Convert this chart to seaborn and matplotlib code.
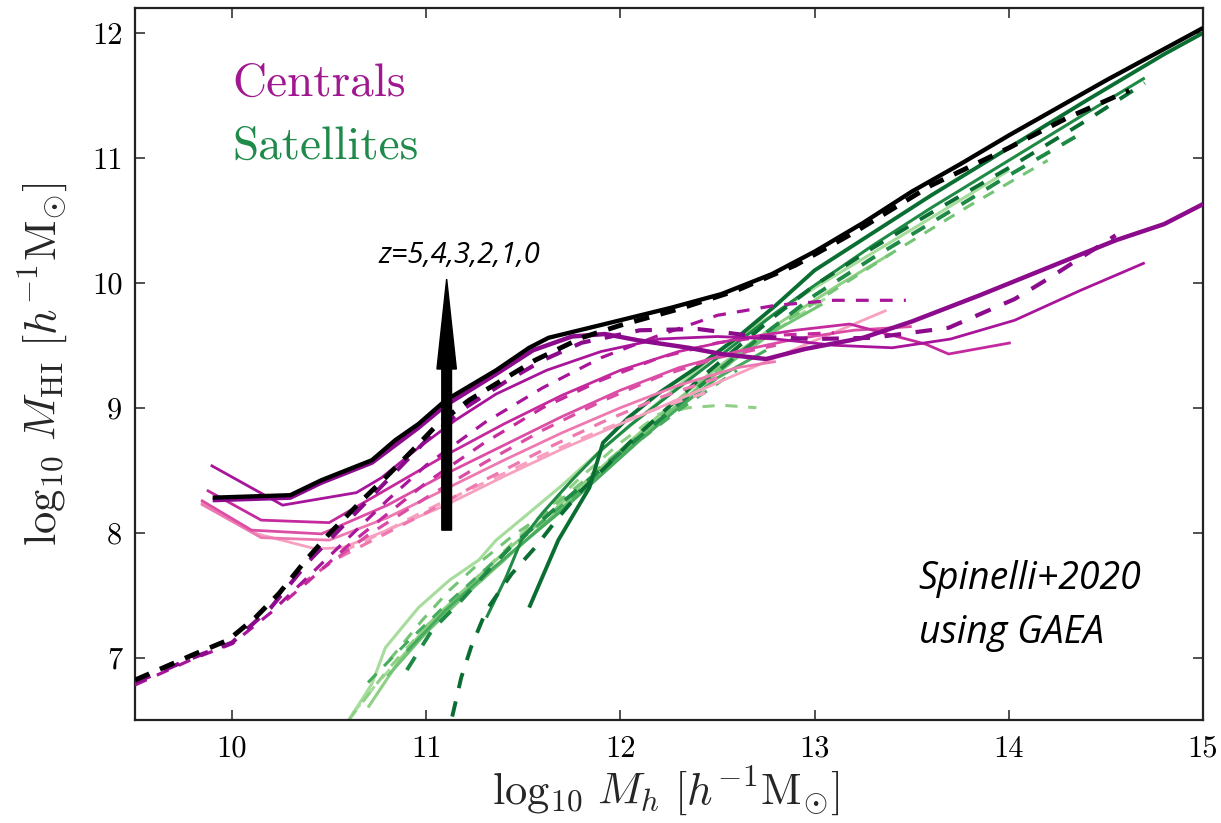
import numpy as np
import pandas as pd
import seaborn as sns
import matplotlib
matplotlib.use("Agg")
import matplotlib.pyplot as plt

# ---------------------------------------------------------------- data
# Total HI mass (z=0), two model runs
tot_solid_x = [9.9, 10.3, 10.46, 10.72, 10.84, 10.96, 11.1, 11.36, 11.53, 11.63, 11.92, 12.26,
               12.52, 12.78, 13.0, 13.25, 13.5, 13.75, 14.0, 14.25, 14.5, 14.75, 15.0]
tot_solid_y = [8.28, 8.30, 8.42, 8.58, 8.74, 8.87, 9.06, 9.30, 9.48, 9.56, 9.67, 9.80,
               9.91, 10.07, 10.25, 10.48, 10.73, 10.95, 11.18, 11.40, 11.62, 11.83, 12.04]
tot_dash_x = [9.5, 9.81, 9.98, 10.12, 10.24, 10.38, 10.5, 10.67, 10.79, 10.93, 11.06, 11.22,
              11.39, 11.56, 11.8, 12.0, 12.3, 12.6, 12.9, 13.2, 13.6, 14.0, 14.3, 14.62]
tot_dash_y = [6.82, 7.03, 7.14, 7.32, 7.51, 7.78, 7.99, 8.26, 8.44, 8.66, 8.87, 9.06,
              9.22, 9.38, 9.56, 9.66, 9.79, 9.94, 10.14, 10.40, 10.78, 11.08, 11.32, 11.54]

redshifts = [0, 1, 2, 3, 4, 5]

# Centrals, solid-line run
cen_solid_x = {
    0: [9.9, 10.3, 10.46, 10.72, 10.96, 11.1, 11.36, 11.55, 11.75, 11.92, 12.09, 12.35, 12.52,
        12.75, 12.95, 13.25, 13.5, 13.85, 14.2, 14.55, 14.8, 15.0],
    1: [9.89, 10.26, 10.64, 10.77, 10.96, 11.15, 11.36, 11.62, 11.9, 12.2, 12.5, 12.8, 13.1,
        13.4, 13.7, 14.03, 14.37, 14.7],
    2: [9.87, 10.15, 10.5, 10.8, 11.1, 11.4, 11.7, 12.0, 12.3, 12.6, 12.9, 13.18, 13.57, 13.69, 14.01],
    3: [9.84, 10.1, 10.46, 10.8, 11.1, 11.4, 11.7, 12.0, 12.3, 12.6, 12.9, 13.2, 13.5],
    4: [9.84, 10.15, 10.5, 10.8, 11.1, 11.4, 11.7, 12.0, 12.3, 12.6, 12.8],
    5: [9.84, 10.13, 10.43, 10.57, 10.8, 11.1, 11.4, 11.7, 12.0, 12.44, 12.9, 13.37],
}
cen_solid_y = {
    0: [8.26, 8.28, 8.40, 8.56, 8.84, 9.02, 9.27, 9.46, 9.57, 9.59, 9.54, 9.48, 9.43,
        9.39, 9.47, 9.56, 9.69, 9.90, 10.12, 10.34, 10.47, 10.63],
    1: [8.54, 8.22, 8.32, 8.44, 8.68, 8.90, 9.11, 9.30, 9.45, 9.55, 9.57, 9.55, 9.50,
        9.48, 9.55, 9.70, 9.94, 10.16],
    2: [8.34, 8.10, 8.08, 8.35, 8.62, 8.87, 9.10, 9.30, 9.45, 9.55, 9.62, 9.67, 9.51, 9.43, 9.52],
    3: [8.26, 8.02, 7.99, 8.22, 8.47, 8.70, 8.93, 9.14, 9.32, 9.45, 9.55, 9.62, 9.65],
    4: [8.23, 7.96, 7.94, 8.12, 8.35, 8.58, 8.80, 9.00, 9.18, 9.32, 9.37],
    5: [8.24, 7.99, 7.87, 7.88, 8.02, 8.22, 8.45, 8.67, 8.87, 9.16, 9.47, 9.78],
}

# Centrals, dashed-line run
cen_dash_x = {
    0: [9.5, 9.8, 10.0, 10.2, 10.4, 10.6, 10.8, 11.0, 11.2, 11.4, 11.6, 11.8, 12.1, 12.4, 12.7,
        13.0, 13.3, 13.69, 14.03, 14.2, 14.55],
    1: [9.5, 9.8, 10.0, 10.2, 10.4, 10.6, 10.8, 11.0, 11.3, 11.6, 11.9, 12.2, 12.5, 12.8, 13.1, 13.47],
    2: [10.28, 10.4, 10.6, 10.8, 11.0, 11.3, 11.6, 11.9, 12.2, 12.5, 12.8, 13.1],
    3: [10.35, 10.5, 10.7, 11.0, 11.3, 11.6, 11.9, 12.2, 12.5, 12.8],
    4: [10.55, 10.7, 11.0, 11.3, 11.6, 11.9, 12.2, 12.5],
    5: [10.57, 10.8, 11.0, 11.3, 11.6, 11.9, 12.2, 12.44],
}
cen_dash_y = {
    0: [6.80, 7.00, 7.12, 7.40, 7.78, 8.10, 8.42, 8.74, 9.00, 9.20, 9.38, 9.52, 9.62, 9.63, 9.57,
        9.55, 9.56, 9.64, 9.87, 10.03, 10.38],
    1: [6.78, 6.99, 7.11, 7.36, 7.66, 7.96, 8.26, 8.54, 8.88, 9.16, 9.40, 9.58, 9.74, 9.82, 9.86, 9.86],
    2: [7.46, 7.62, 7.90, 8.15, 8.40, 8.72, 9.00, 9.22, 9.40, 9.52, 9.58, 9.60],
    3: [7.58, 7.75, 7.98, 8.28, 8.56, 8.82, 9.05, 9.25, 9.40, 9.50],
    4: [7.80, 7.92, 8.16, 8.42, 8.66, 8.88, 9.08, 9.24],
    5: [7.85, 8.02, 8.18, 8.40, 8.62, 8.82, 9.00, 9.12],
}

# Satellites, solid-line run
sat_solid_x = {
    0: [11.53, 11.68, 11.84, 11.91, 12.04, 12.2, 12.4, 12.6, 12.8, 13.0, 13.3, 13.6, 14.0,
        14.4, 14.8, 15.0],
    1: [11.31, 11.41, 11.49, 11.6, 11.75, 11.9, 12.05, 12.2, 12.4, 12.6, 12.8, 13.0, 13.3,
        13.6, 14.0, 14.4, 14.7],
    2: [10.9, 11.1, 11.3, 11.5, 11.7, 11.9, 12.1, 12.3, 12.5, 12.75],
    3: [10.8, 11.0, 11.2, 11.4, 11.6, 11.8, 12.0, 12.2, 12.4, 12.6, 12.8, 13.04],
    4: [10.7, 10.85, 11.0, 11.2, 11.4, 11.6, 11.8, 12.0, 12.2, 12.4, 12.6, 12.8, 13.1, 13.4],
    5: [10.55, 10.61, 10.72, 10.79, 10.96, 11.12, 11.27, 11.36, 11.5, 11.7, 11.9, 12.1, 12.3,
        12.5, 12.7, 13.0, 13.3, 13.6, 14.0],
}
sat_solid_y = {
    0: [7.40, 7.94, 8.36, 8.72, 8.92, 9.12, 9.33, 9.56, 9.82, 10.10, 10.40, 10.70, 11.08,
        11.46, 11.83, 12.0],
    1: [7.32, 7.64, 7.94, 8.16, 8.42, 8.66, 8.86, 9.04, 9.28, 9.52, 9.76, 9.98, 10.30,
        10.60, 10.98, 11.36, 11.64],
    2: [7.05, 7.38, 7.66, 7.92, 8.18, 8.46, 8.74, 9.00, 9.24, 9.46],
    3: [6.85, 7.20, 7.50, 7.78, 8.06, 8.34, 8.62, 8.90, 9.16, 9.40, 9.62, 9.83],
    4: [6.60, 6.95, 7.25, 7.55, 7.84, 8.10, 8.38, 8.66, 8.94, 9.20, 9.44, 9.66, 9.96, 10.24],
    5: [6.30, 6.52, 6.79, 7.08, 7.40, 7.62, 7.78, 7.94, 8.12, 8.38, 8.66, 8.92, 9.18,
        9.44, 9.66, 9.96, 10.24, 10.52, 10.90],
}

# Satellites, dashed-line run
sat_dash_x = {
    0: [11.1, 11.18, 11.23, 11.31, 11.44, 11.56, 11.68, 11.8, 11.92, 12.06, 12.23, 12.4, 12.6,
        12.8, 13.0, 13.3, 13.6, 14.0, 14.4, 14.7],
    1: [10.9, 11.03, 11.17, 11.31, 11.43, 11.55, 11.7, 11.85, 12.0, 12.2, 12.4, 12.6, 12.8,
        13.0, 13.3, 13.6, 14.0, 14.4],
    2: [10.7, 10.9, 11.1, 11.3, 11.5, 11.7, 11.9, 12.1, 12.3, 12.6],
    3: [10.81, 10.98, 11.12, 11.29, 11.45, 11.6, 11.8, 12.0, 12.2, 12.4, 12.6, 12.8, 13.1,
        13.4, 13.8, 14.2],
    4: [10.6, 10.8, 11.0, 11.2, 11.4, 11.6, 11.8, 12.0, 12.2, 12.35, 12.52, 12.7],
    5: [10.62, 10.75, 10.9, 11.1, 11.3, 11.5, 11.7, 11.9, 12.1, 12.3, 12.5, 12.8, 13.1],
}
sat_dash_y = {
    0: [6.30, 6.84, 7.08, 7.38, 7.67, 7.88, 8.12, 8.34, 8.52, 8.74, 8.98, 9.22, 9.48,
        9.74, 9.98, 10.28, 10.56, 10.92, 11.30, 11.60],
    1: [6.90, 7.22, 7.44, 7.68, 7.88, 8.04, 8.24, 8.44, 8.64, 8.90, 9.16, 9.42, 9.66,
        9.90, 10.20, 10.48, 10.86, 11.22],
    2: [6.80, 7.12, 7.42, 7.70, 7.96, 8.22, 8.48, 8.74, 8.98, 9.30],
    3: [6.98, 7.30, 7.54, 7.78, 7.98, 8.14, 8.40, 8.66, 8.92, 9.18, 9.42, 9.64, 9.94,
        10.24, 10.62, 10.98],
    4: [6.50, 6.90, 7.25, 7.55, 7.85, 8.15, 8.45, 8.72, 8.95, 9.00, 9.02, 9.00],
    5: [6.55, 6.80, 7.05, 7.36, 7.64, 7.92, 8.20, 8.48, 8.76, 9.02, 9.28, 9.62, 9.92],
}

cen_colors = ["#8c0a8c", "#a8159a", "#c42a9e", "#dc4ea6", "#ee78b0", "#f8a0bf"]
sat_colors = ["#0a6e32", "#1f8a45", "#47ab5e", "#74c476", "#8ed184", "#a6dc9c"]

x_ticks = [10, 11, 12, 13, 14, 15]
y_ticks = [7, 8, 9, 10, 11, 12]

# ---------------------------------------------------------------- style
sns.set_style("ticks")
plt.rcParams["font.family"] = ["cmr10", "DejaVu Serif"]
plt.rcParams["mathtext.fontset"] = "cm"
plt.rcParams["axes.unicode_minus"] = False
plt.rcParams["axes.formatter.use_mathtext"] = True

fig = plt.figure(figsize=(12.21, 8.23), dpi=100)
ax = fig.add_axes([135 / 1221, 1 - 720 / 823, 1068 / 1221, 712 / 823])


def draw(x, y, color, lw, dashes=None, z=2):
    sns.lineplot(x=x, y=y, ax=ax, color=color, lw=lw, estimator=None, sort=False,
                 zorder=z, solid_capstyle="butt")
    line = ax.lines[-1]
    if dashes is not None:
        line.set_dashes(dashes)
        line.set_dash_capstyle("butt")


# satellites first, then centrals, then totals on top
for z in reversed(redshifts):
    draw(sat_dash_x[z], sat_dash_y[z], sat_colors[z], 2.8 if z < 2 else 2.2, (4, 3.5), 2)
    draw(sat_solid_x[z], sat_solid_y[z], sat_colors[z], 2.8 if z == 0 else 2.2, None, 2)
for z in reversed(redshifts):
    draw(cen_dash_x[z], cen_dash_y[z], cen_colors[z], 3.0 if z == 0 else 2.3, (4, 3.5), 3)
    draw(cen_solid_x[z], cen_solid_y[z], cen_colors[z], 3.2 if z == 0 else 2.0, None, 3)

draw(tot_dash_x, tot_dash_y, "black", 3.5, (3.2, 2.4), 4)
draw(tot_solid_x, tot_solid_y, "black", 3.1, None, 5)

ax.set_xlim(9.5, 15.0)
ax.set_ylim(6.5, 12.2)
ax.set_xticks(x_ticks)
ax.set_yticks(y_ticks)
ax.set_xticklabels([str(t) for t in x_ticks])
ax.set_yticklabels([str(t) for t in y_ticks])
ax.tick_params(direction="in", length=7, width=1.1, top=True, right=True,
               labelsize=22, pad=9, colors="#222222", labelcolor="black")
ax.tick_params(axis="x", pad=11)
for sp in ax.spines.values():
    sp.set_visible(True)
    sp.set_linewidth(1.6)
    sp.set_color("#222222")

ax.set_xlabel(r"$\log_{10}\,M_h\ [h^{-1}{\rm M}_{\odot}]$", fontsize=32)
ax.set_ylabel(r"$\log_{10}\,M_{\rm HI}\ [h^{-1}{\rm M}_{\odot}]$", fontsize=32)
ax.xaxis.set_label_coords(0.497, -0.062)
ax.yaxis.set_label_coords(-0.062, 0.5)

ax.text(10.0, 11.5, "Centrals", color="#a0188f", fontsize=34, ha="left", va="baseline")
ax.text(10.0, 10.99, "Satellites", color="#1f8a4a", fontsize=34, ha="left", va="baseline")

ax.text(10.756, 10.155, "z=5,4,3,2,1,0", fontsize=21, fontstyle="italic",
        family=["Open Sans", "DejaVu Sans"], ha="left", va="baseline", color="black")
ax.text(13.535, 7.78, "Spinelli+2020\nusing GAEA", fontsize=27, fontstyle="italic",
        family=["Open Sans", "DejaVu Sans"], ha="left", va="top", color="black",
        linespacing=1.55)

ax.arrow(11.105, 8.02, 0.0, 2.01, width=0.05, head_width=0.1, head_length=0.72,
         length_includes_head=True, color="black", zorder=6)

fig.savefig("out.png", dpi=100)
